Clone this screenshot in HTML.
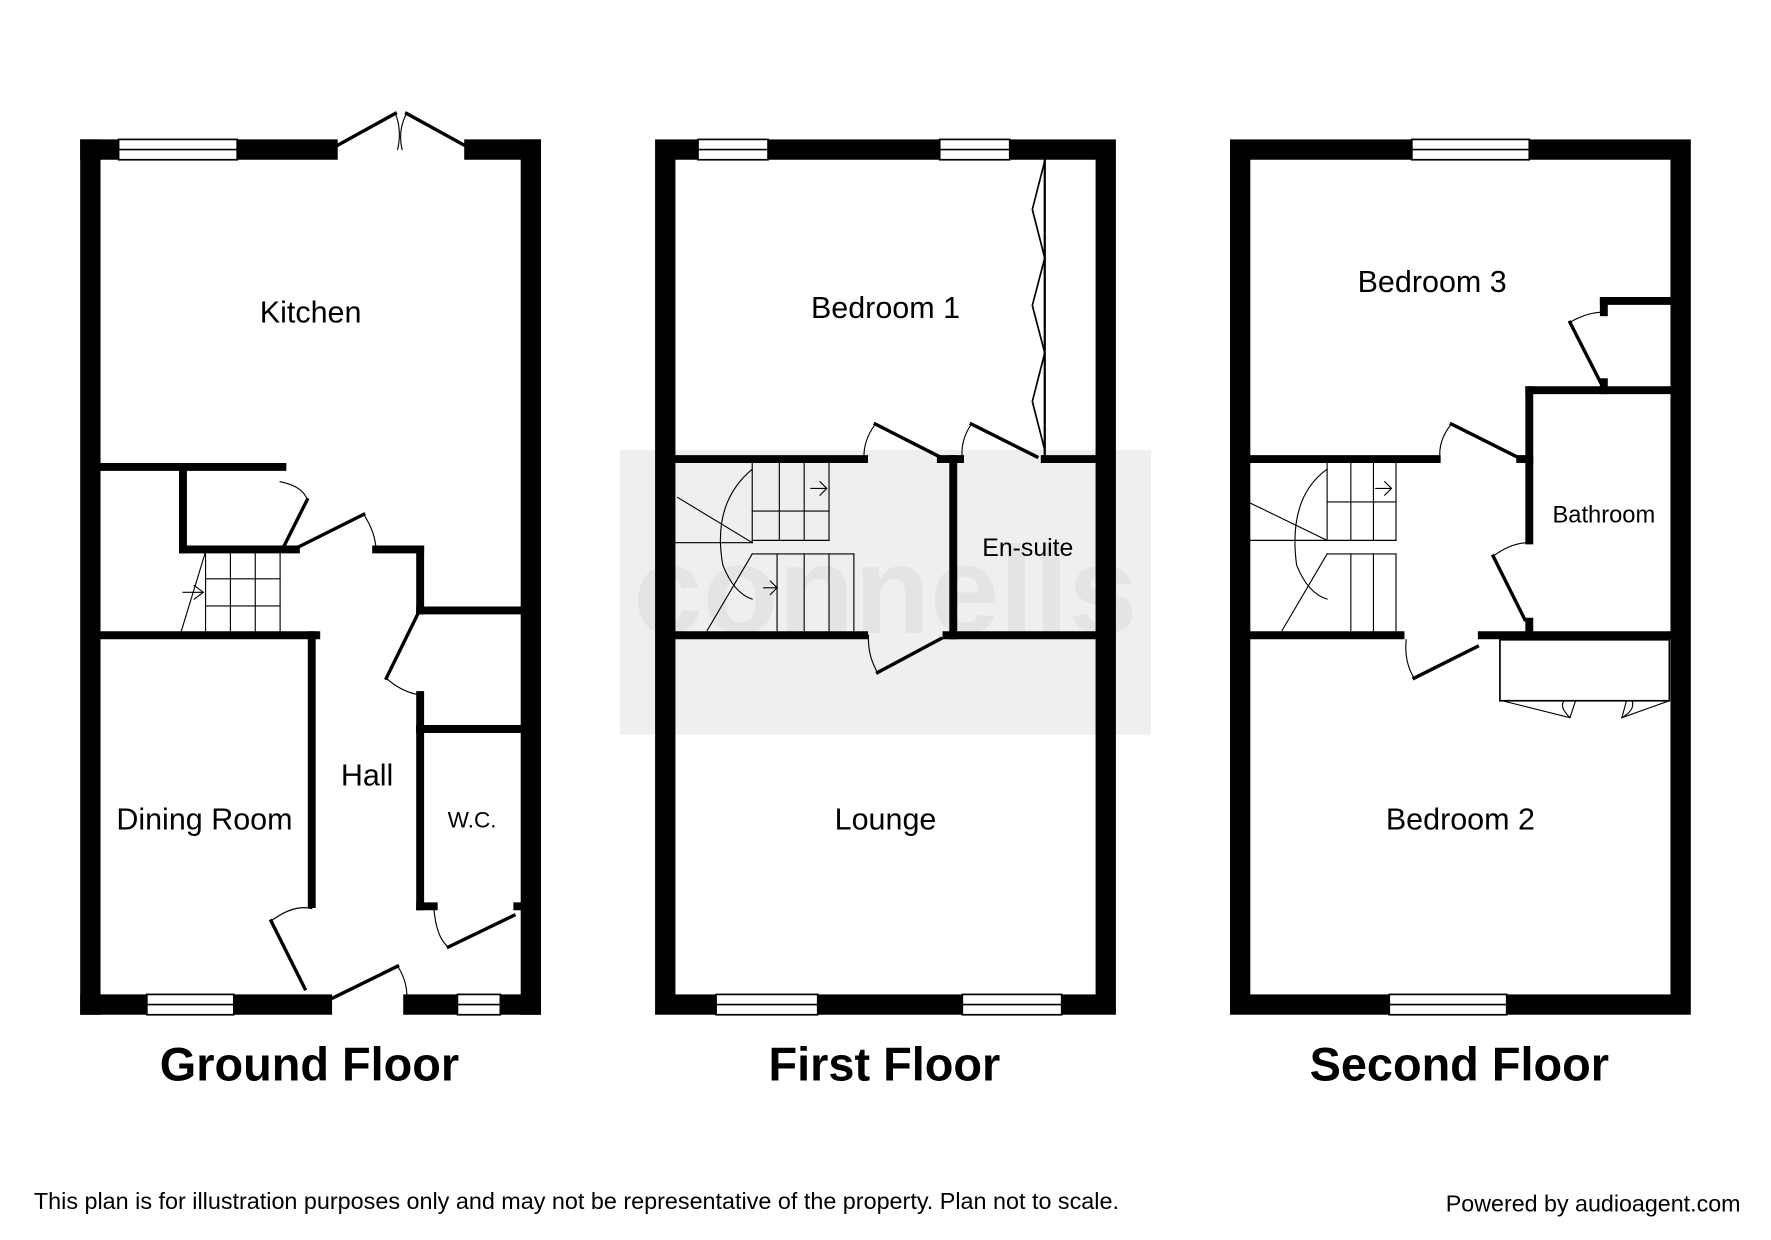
<!DOCTYPE html>
<html><head><meta charset="utf-8"><style>
html,body{margin:0;padding:0;background:#fff;}
svg{display:block;}
text{font-family:"Liberation Sans",sans-serif;fill:#000;}
</style></head><body>
<svg width="1771" height="1240" viewBox="0 0 1568 1097" xmlns="http://www.w3.org/2000/svg">
<rect width="1568" height="1097" fill="#fff"/>
<!-- watermark -->
<rect x="549" y="398" width="470" height="252" fill="#efefef"/>
<text x="784" y="560" font-size="110" font-weight="bold" text-anchor="middle" style="fill:#e4e4e4">connells</text>

<g stroke="#000" fill="none" stroke-linecap="square">
<!-- ===== GROUND FLOOR ===== -->
<g stroke-width="18">
<line x1="80" y1="132" x2="290" y2="132"/><line x1="420" y1="132" x2="470" y2="132"/>
<line x1="80" y1="132" x2="80" y2="889"/><line x1="470" y1="132" x2="470" y2="889"/>
<line x1="80" y1="889" x2="285" y2="889"/><line x1="366" y1="889" x2="470" y2="889"/>
</g>
<g stroke-width="7">
<line x1="89" y1="413" x2="250" y2="413"/>
<line x1="162" y1="413" x2="162" y2="486"/><line x1="162" y1="486" x2="262" y2="486"/>
<line x1="89" y1="562" x2="280" y2="562"/><line x1="276" y1="562" x2="276" y2="800"/>
<line x1="333" y1="486" x2="372" y2="486"/><line x1="372" y1="486" x2="372" y2="540"/>
<line x1="372" y1="540" x2="462" y2="540"/>
<line x1="372" y1="615" x2="372" y2="645"/><line x1="372" y1="645" x2="462" y2="645"/>
<line x1="372" y1="645" x2="372" y2="802"/><line x1="372" y1="802" x2="384" y2="802"/>
<line x1="458" y1="802" x2="462" y2="802"/>
</g>
<g stroke-width="1.5" fill="#fff">
<rect x="105" y="123" width="105" height="18"/><line x1="105" y1="132" x2="210" y2="132"/>
<rect x="130" y="880" width="77" height="18"/><line x1="130" y1="889" x2="207" y2="889"/>
<rect x="405" y="880" width="38" height="18"/><line x1="405" y1="889" x2="443" y2="889"/>
</g>
<g stroke-width="3">
<line x1="292" y1="132" x2="350" y2="100"/><line x1="418" y1="132" x2="360" y2="100"/>
<line x1="250" y1="486" x2="272" y2="442"/><line x1="264" y1="484" x2="322" y2="455"/>
<line x1="370" y1="543" x2="342" y2="600"/>
<line x1="240" y1="815" x2="270" y2="875"/><line x1="295" y1="883" x2="352" y2="855"/>
<line x1="397" y1="838" x2="455" y2="810"/>
</g>
<g stroke-width="1">
<path d="M350 100 Q356 115 352 132"/><path d="M360 100 Q352 115 356 132"/>
<path d="M248 426 Q268 430 272 442"/><path d="M322 455 Q332 470 333 486"/>
<path d="M342 600 Q355 612 372 615"/><path d="M240 815 Q260 800 276 804"/>
<path d="M352 855 Q362 870 360 889"/><path d="M384 802 Q386 830 397 838"/>
</g>
<g stroke-width="1">
<line x1="160" y1="560" x2="182" y2="488"/>
<line x1="182" y1="488" x2="182" y2="560"/><line x1="204" y1="488" x2="204" y2="560"/>
<line x1="226" y1="488" x2="226" y2="560"/><line x1="248" y1="488" x2="248" y2="560"/>
<line x1="182" y1="512" x2="248" y2="512"/><line x1="182" y1="536" x2="248" y2="536"/>
<path d="M162 524 L180 524 M172 518 L180 524 L172 530"/>
</g>

<!-- ===== FIRST FLOOR ===== -->
<g stroke-width="18">
<rect x="589" y="132" width="390" height="757"/>
</g>
<g stroke-width="7">
<line x1="598" y1="406" x2="765" y2="406"/><line x1="598" y1="562" x2="765" y2="562"/>
<line x1="833" y1="406" x2="850" y2="406"/><line x1="844" y1="406" x2="844" y2="562"/>
<line x1="838" y1="562" x2="970" y2="562"/><line x1="925" y1="406" x2="970" y2="406"/>
<line x1="925" y1="140" x2="925" y2="406" stroke-width="2"/>
</g>
<g stroke-width="1.5" fill="#fff">
<rect x="618" y="123" width="62" height="18"/><line x1="618" y1="132" x2="680" y2="132"/>
<rect x="832" y="123" width="62" height="18"/><line x1="832" y1="132" x2="894" y2="132"/>
<rect x="634" y="880" width="90" height="18"/><line x1="634" y1="889" x2="724" y2="889"/>
<rect x="852" y="880" width="88" height="18"/><line x1="852" y1="889" x2="940" y2="889"/>
</g>
<g stroke-width="3">
<line x1="775" y1="375" x2="832" y2="404"/><line x1="860" y1="375" x2="918" y2="404"/>
<line x1="777" y1="595" x2="833" y2="565"/>
<path d="M925 142 L914 185 L925 228 L914 270 L925 312 L914 355 L925 398" stroke-width="1.5"/>
</g>
<g stroke-width="1">
<path d="M775 375 Q764 390 765 406"/><path d="M860 375 Q850 390 852 406"/>
<path d="M777 595 Q768 580 769 562"/>
</g>
<g stroke-width="1">
<line x1="666" y1="410" x2="666" y2="480"/><line x1="690" y1="410" x2="690" y2="478"/>
<line x1="712" y1="410" x2="712" y2="478"/><line x1="734" y1="410" x2="734" y2="478"/>
<line x1="666" y1="452" x2="734" y2="452"/><line x1="666" y1="478" x2="734" y2="478"/>
<line x1="600" y1="440" x2="666" y2="480"/><line x1="598" y1="480" x2="666" y2="480"/>
<line x1="626" y1="558" x2="666" y2="490"/>
<line x1="688" y1="490" x2="688" y2="558"/><line x1="712" y1="490" x2="712" y2="558"/>
<line x1="734" y1="490" x2="734" y2="558"/><line x1="756" y1="490" x2="756" y2="558"/>
<line x1="666" y1="490" x2="756" y2="490"/>
<path d="M666 415 Q630 445 640 500 Q650 525 666 530"/>
<path d="M718 432 L732 432 M726 426 L732 432 L726 438"/>
<path d="M676 520 L688 520 M682 514 L688 520 L682 526"/>
</g>

<!-- ===== SECOND FLOOR ===== -->
<g stroke-width="18">
<rect x="1098" y="132" width="390" height="757"/>
</g>
<g stroke-width="7">
<line x1="1107" y1="406" x2="1272" y2="406"/><line x1="1107" y1="562" x2="1240" y2="562"/>
<line x1="1354" y1="345" x2="1480" y2="345"/><line x1="1354" y1="345" x2="1354" y2="478"/>
<line x1="1354" y1="550" x2="1354" y2="562"/><line x1="1346" y1="406" x2="1354" y2="406"/>
<line x1="1312" y1="562" x2="1480" y2="562"/>
<line x1="1420" y1="266" x2="1480" y2="266"/><line x1="1420" y1="266" x2="1420" y2="276"/>
<line x1="1420" y1="338" x2="1420" y2="345"/>
</g>
<g stroke-width="1.5" fill="#fff">
<rect x="1250" y="123" width="104" height="18"/><line x1="1250" y1="132" x2="1354" y2="132"/>
<rect x="1230" y="880" width="104" height="18"/><line x1="1230" y1="889" x2="1334" y2="889"/>
<rect x="1328" y="566" width="150" height="54"/>
</g>
<g stroke-width="3">
<line x1="1285" y1="375" x2="1343" y2="404"/><line x1="1390" y1="285" x2="1417" y2="338"/>
<line x1="1322" y1="492" x2="1350" y2="548"/><line x1="1252" y1="600" x2="1308" y2="572"/>
</g>
<g stroke-width="1">
<path d="M1285 375 Q1273 390 1275 406"/><path d="M1390 285 Q1405 276 1420 276"/>
<path d="M1322 492 Q1338 480 1354 480"/><path d="M1252 600 Q1243 585 1245 566"/>
<path d="M1330 620 L1390 635 L1395 620 M1440 620 L1436 635 L1478 620"/>
<path d="M1390 635 Q1380 625 1385 620 M1436 635 Q1448 628 1445 620"/>
</g>
<g stroke-width="1">
<line x1="1175" y1="410" x2="1175" y2="478"/><line x1="1196" y1="410" x2="1196" y2="478"/>
<line x1="1216" y1="410" x2="1216" y2="478"/><line x1="1236" y1="410" x2="1236" y2="478"/>
<line x1="1175" y1="444" x2="1236" y2="444"/><line x1="1175" y1="478" x2="1236" y2="478"/>
<line x1="1107" y1="445" x2="1175" y2="478"/><line x1="1107" y1="478" x2="1175" y2="478"/>
<line x1="1135" y1="558" x2="1175" y2="490"/>
<line x1="1196" y1="490" x2="1196" y2="558"/><line x1="1216" y1="490" x2="1216" y2="558"/>
<line x1="1236" y1="490" x2="1236" y2="558"/><line x1="1175" y1="490" x2="1236" y2="490"/>
<path d="M1175 415 Q1140 440 1148 500 Q1158 525 1175 530"/>
<path d="M1218 432 L1232 432 M1226 426 L1232 432 L1226 438"/>
</g>
</g>

<!-- labels -->
<g font-size="27" text-anchor="middle">
<text x="275" y="285">Kitchen</text>
<text x="325" y="695">Hall</text>
<text x="181" y="734">Dining Room</text>
<text x="418" y="732" font-size="20">W.C.</text>
<text x="784" y="281">Bedroom 1</text>
<text x="910" y="492" font-size="22">En-suite</text>
<text x="784" y="734">Lounge</text>
<text x="1268" y="258">Bedroom 3</text>
<text x="1420" y="462" font-size="21">Bathroom</text>
<text x="1293" y="734">Bedroom 2</text>
</g>
<g font-size="41.5" font-weight="bold" text-anchor="middle">
<text x="274" y="956">Ground Floor</text>
<text x="783" y="956">First Floor</text>
<text x="1292" y="956">Second Floor</text>
</g>
<text x="30" y="1070" font-size="20.7">This plan is for illustration purposes only and may not be representative of the property. Plan not to scale.</text>
<text x="1541" y="1072" font-size="20.6" text-anchor="end">Powered by audioagent.com</text>
</svg>
</body></html>
